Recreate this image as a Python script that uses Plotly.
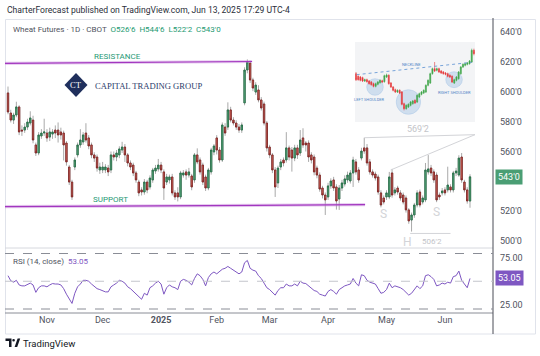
import numpy as np
import pandas as pd
import plotly.graph_objects as go

# ---------------- data ----------------
holidays = ["2024-11-28", "2024-12-25", "2025-01-01", "2025-01-09",
            "2025-01-20", "2025-02-17", "2025-04-18", "2025-05-26"]
dates = [d for d in pd.bdate_range("2024-10-14", "2025-06-13")
         if d.strftime("%Y-%m-%d") not in holidays]

opens = [599.3, 585.8, 581.1, 584.5, 589.9, 574.4, 574.4, 576.4, 579.1, 581.1,
         564.4, 559.0, 570.4, 572.4, 572.4, 569.7, 571.7, 574.4, 574.4, 573.1,
         572.4, 565.7, 549.6, 539.5, 549.6, 557.7, 564.4, 566.4, 572.4, 569.1,
         564.4, 557.7, 556.3, 547.6, 547.6, 547.6, 548.9, 547.6, 557.7, 556.3,
         557.7, 561.0, 563.0, 557.7, 552.3, 550.9, 545.6, 539.5, 534.2, 532.8,
         539.5, 536.2, 540.9, 546.9, 548.3, 550.9, 546.3, 539.5, 540.9, 542.9,
         532.2, 532.2, 529.5, 544.2, 546.3, 544.2, 543.6, 540.9, 557.7, 554.3,
         550.9, 542.9, 535.5, 546.3, 559.7, 569.1, 561.0, 554.3, 576.4, 576.4,
         587.9, 581.1, 579.1, 576.4, 574.4, 592.6, 614.7, 619.4, 608.0, 599.9,
         601.3, 594.6, 591.9, 579.1, 563.0, 557.7, 547.6, 538.9, 549.6, 554.3,
         554.3, 562.4, 561.0, 555.6, 562.4, 559.0, 569.1, 565.7, 565.7, 557.7,
         556.3, 548.9, 544.2, 535.5, 530.8, 529.5, 536.9, 540.9, 536.2, 528.1,
         535.5, 538.2, 540.9, 540.2, 545.6, 553.0, 547.6, 555.6, 562.4, 562.4,
         553.0, 546.3, 544.9, 542.9, 532.2, 528.8, 529.5, 529.5, 545.6, 532.2,
         535.5, 532.2, 530.8, 528.8, 520.8, 514.0, 517.4, 524.1, 532.8, 526.1,
         527.5, 546.3, 548.9, 546.3, 544.2, 530.8, 532.2, 534.2, 534.2, 536.2,
         534.2, 545.6, 544.2, 556.3, 539.5, 534.2, 526.75]
highs = [603.6, 588.0, 586.0, 593.4, 591.0, 577.5, 579.0, 582.0, 587.0, 584.0,
         566.0, 573.0, 575.0, 582.0, 575.0, 576.0, 575.0, 577.5, 579.5, 576.0,
         574.0, 567.0, 551.0, 541.0, 556.0, 566.0, 575.0, 573.0, 579.0, 571.0,
         566.0, 559.5, 558.0, 552.5, 553.0, 551.5, 551.0, 560.0, 560.0, 561.0,
         563.5, 566.5, 565.0, 559.0, 554.0, 552.5, 547.0, 541.0, 536.0, 541.5,
         541.0, 544.0, 549.0, 551.0, 555.0, 553.0, 548.0, 545.0, 544.5, 545.0,
         534.0, 536.0, 547.0, 547.5, 548.0, 549.0, 545.0, 559.0, 562.1, 556.0,
         552.5, 544.5, 549.0, 562.5, 565.0, 571.0, 563.0, 579.5, 579.0, 593.0,
         590.0, 583.0, 581.0, 578.5, 579.5, 616.5, 621.8, 621.0, 609.5, 606.5,
         604.5, 596.5, 593.5, 580.5, 564.5, 559.0, 549.5, 550.5, 555.0, 556.0,
         573.0, 564.0, 563.0, 564.5, 564.5, 574.4, 575.6, 567.0, 567.5, 559.5,
         558.0, 550.5, 546.0, 537.0, 532.5, 539.0, 542.0, 543.0, 538.0, 537.5,
         541.0, 544.0, 546.5, 547.5, 556.5, 555.0, 549.5, 562.5, 569.25, 565.0,
         555.0, 548.0, 546.5, 544.5, 534.0, 530.5, 534.0, 546.3, 548.3, 536.0,
         537.0, 534.0, 532.5, 530.5, 522.0, 519.0, 525.5, 534.0, 534.5, 530.5,
         552.3, 557.6, 551.0, 548.0, 546.0, 532.5, 535.5, 536.0, 549.8, 538.0,
         547.0, 549.0, 557.5, 559.0, 541.0, 536.0, 544.75]
lows = [585.0, 579.5, 578.5, 583.0, 571.0, 570.5, 572.5, 574.5, 577.5, 565.5,
        557.0, 557.5, 568.5, 570.5, 566.5, 567.0, 568.5, 569.0, 566.0, 568.0,
        554.0, 550.5, 537.5, 527.5, 547.5, 556.0, 562.5, 564.5, 566.0, 561.5,
        555.5, 553.0, 546.5, 545.0, 545.5, 545.5, 543.5, 545.5, 554.0, 553.5,
        555.5, 559.0, 553.0, 550.0, 547.5, 543.5, 539.0, 530.0, 530.5, 531.0,
        532.0, 534.5, 539.0, 545.0, 546.5, 545.5, 527.5, 537.5, 538.5, 530.5,
        527.5, 526.5, 528.0, 542.5, 541.0, 542.5, 534.0, 539.0, 551.5, 544.5,
        537.5, 533.5, 534.0, 544.5, 557.5, 558.0, 552.5, 553.0, 570.5, 574.5,
        579.5, 577.5, 574.5, 572.5, 572.5, 591.0, 612.5, 606.0, 600.5, 598.0,
        593.0, 587.5, 577.5, 560.0, 555.5, 545.5, 529.5, 535.5, 547.5, 550.0,
        552.5, 554.0, 546.5, 553.5, 555.0, 557.0, 562.5, 560.0, 553.0, 552.0,
        544.0, 542.0, 533.0, 528.5, 517.4, 527.5, 535.0, 533.5, 521.0, 520.8,
        533.5, 536.5, 539.0, 538.5, 536.2, 544.5, 539.0, 554.0, 558.5, 550.5,
        544.5, 542.5, 540.5, 531.0, 522.5, 524.5, 527.5, 528.0, 529.0, 530.5,
        531.0, 527.0, 524.5, 519.0, 511.5, 506.25, 515.5, 522.5, 522.5, 524.5,
        526.0, 544.5, 543.5, 539.0, 526.0, 527.5, 530.5, 530.5, 532.5, 532.5,
        532.5, 543.5, 543.0, 539.0, 532.5, 525.0, 522.25]
closes = [586.5, 581.1, 584.5, 589.9, 573.1, 573.8, 576.4, 579.8, 582.5, 567.7,
          559.0, 571.1, 572.4, 573.1, 569.1, 573.1, 573.1, 572.4, 571.1, 571.1,
          564.4, 553.0, 539.5, 529.5, 554.3, 564.4, 567.7, 571.1, 567.7, 563.7,
          557.7, 555.6, 548.9, 549.6, 549.6, 549.6, 546.3, 557.7, 556.3, 559.0,
          561.7, 563.0, 557.7, 552.3, 549.6, 545.6, 540.9, 532.2, 532.8, 539.5,
          534.2, 542.2, 547.6, 548.9, 550.9, 547.6, 535.5, 542.9, 542.9, 532.2,
          529.5, 529.5, 545.6, 545.6, 544.2, 546.3, 536.2, 557.7, 553.0, 546.3,
          539.5, 535.5, 547.6, 561.0, 563.7, 561.0, 554.3, 577.8, 572.4, 587.9,
          581.1, 579.1, 576.4, 574.4, 577.8, 614.7, 620.1, 608.0, 602.6, 604.6,
          594.6, 589.2, 579.1, 562.4, 557.7, 547.6, 536.2, 548.9, 553.0, 552.3,
          562.4, 556.3, 555.6, 562.4, 557.7, 567.7, 564.4, 564.4, 556.3, 554.3,
          546.3, 544.2, 534.8, 530.8, 527.5, 536.9, 540.2, 535.5, 526.8, 535.5,
          538.9, 541.6, 544.2, 545.6, 554.3, 546.3, 540.9, 560.3, 560.3, 552.3,
          546.3, 544.2, 542.2, 532.8, 524.1, 526.1, 532.2, 542.9, 530.8, 534.2,
          532.8, 528.8, 526.1, 520.8, 513.4, 517.4, 524.1, 532.2, 524.1, 528.8,
          547.6, 548.3, 545.6, 540.9, 527.5, 529.5, 533.5, 532.2, 537.5, 534.2,
          545.6, 546.9, 555.6, 540.9, 534.2, 526.8, 543.0]
rsi = [56, 50.5, 49, 51, 46, 45, 45, 46.5, 48, 46,
       38, 43, 45, 45, 44, 46, 47.5, 47, 47, 46,
       42, 36, 31, 26, 37, 44, 47, 51, 51, 50,
       47, 44, 42, 41, 40, 38.5, 38.5, 44, 46, 48,
       51, 50, 48, 44, 42, 39, 36, 33, 30.5, 37,
       35, 43, 45, 48, 50, 47, 36, 43, 46, 44,
       43, 41, 50, 52, 51, 49, 46, 53, 58, 56,
       52, 45, 54, 58, 60, 58, 61, 63, 64, 66,
       64, 62, 60, 58, 60, 70, 72.5, 64, 62, 61,
       56, 53, 48, 43, 41, 38, 35, 40, 43, 43,
       47, 45, 45, 47, 45, 50, 48, 47.5, 45, 43,
       40, 39, 36, 35, 34, 39, 41, 39, 36, 41,
       43, 45, 46, 47, 53, 48, 45, 57, 56, 51,
       49, 48, 47, 42, 37, 38, 41, 48, 43, 45,
       44, 43, 41, 38, 35, 37, 41, 45, 42, 45,
       56, 57, 55, 52, 45, 46, 48, 47, 49, 48,
       55, 56, 61, 51, 47, 43, 53.05]

price_ticks = [500, 520, 560, 580, 600, 620, 640]
rsi_ticks = [25, 75]
rsi_bands = [20, 50, 80]

# head & shoulders illustration (inset picture) mini candles, arbitrary units
ins_open = [150, 142, 140, 138, 128, 132, 128, 125, 120, 112, 118, 123, 129, 126, 140,
            145, 122, 110, 102, 95, 100, 95, 60, 45, 50, 55, 60, 70, 65, 80,
            88, 92, 95, 115, 122, 150, 165, 160, 165, 158, 155, 152, 150, 145, 142,
            122, 130, 135, 150, 170, 175, 178, 180, 185, 220]
ins_close = [132, 132, 130, 128, 132, 126, 120, 117, 112, 120, 125, 130, 125, 144, 146,
             120, 110, 100, 95, 100, 92, 58, 45, 55, 58, 65, 68, 62, 85, 90,
             95, 100, 115, 130, 150, 165, 158, 165, 155, 152, 150, 148, 142, 140, 125,
             132, 140, 155, 170, 178, 180, 182, 188, 220, 210]
ins_high = [155, 145, 143, 141, 135, 135, 131, 128, 123, 123, 128, 133, 132, 147, 150,
            148, 125, 113, 105, 103, 103, 98, 63, 58, 61, 68, 71, 73, 88, 93,
            98, 103, 118, 133, 153, 168, 185, 168, 168, 161, 158, 155, 153, 148, 145,
            135, 143, 158, 173, 181, 183, 185, 191, 225, 225]
ins_low = [128, 129, 127, 125, 125, 123, 117, 114, 109, 109, 115, 120, 122, 123, 137,
           117, 107, 97, 92, 92, 89, 55, 40, 42, 47, 52, 57, 59, 62, 77,
           85, 89, 92, 112, 119, 147, 155, 157, 152, 149, 147, 145, 139, 137, 122,
           119, 127, 132, 147, 167, 172, 175, 177, 182, 205]

# user drawings (bar index, price)
resistance_pts = [(-1.1, 619.2), (87.7, 620.4)]
support_pts = [(-1.1, 523.0), (128.3, 524.3)]
wedge_top_pts = [(128.0, 569.25), (167.8, 571.3)]
wedge_low_pts = [(137.5, 547.6), (167.8, 571.3)]
head_low_pts = [(144.5, 505.0), (159.0, 505.0)]

# ---------------- helpers ----------------
W, H = 540, 356
L_M, R_M, T_M, B_M = 5, 47, 20, 43
PW, PH = W - L_M - R_M, H - T_M - B_M
SPLIT = 248  # pixel y of pane separator


def px(x):
    return (x - L_M) / PW


def py(y):
    return (H - B_M - y) / PH


def fmt8(p):
    w = int(np.floor(p + 1e-9))
    e = int(round((p - w) * 8))
    if e == 8:
        w, e = w + 1, 0
    return f"{w}'{e}"


n = len(dates)
assert n == len(opens) == len(highs) == len(lows) == len(closes) == len(rsi)
idx = list(range(n))
body_hi = [max(o, c) for o, c in zip(opens, closes)]
body_lo = [min(o, c) for o, c in zip(opens, closes)]

# month ticks
tickvals, ticktext = [], []
prev = None
for i, d in enumerate(dates):
    key = (d.year, d.month)
    if prev is not None and key != prev and d >= pd.Timestamp("2024-11-01"):
        tickvals.append(i)
        ticktext.append("<b>2025</b>" if d.month == 1 else d.strftime("%b"))
    prev = key

# axis geometry: bar 0 at pixel 8, bar n-1 at pixel 470
spacing = (470 - 8) / (n - 1)
x_range = [(L_M - 8) / spacing, (L_M + PW - 8) / spacing]
# price scale: 640 at y=32.3, 1.49 px per cent
pps = 1.49
y_top = 640 + (32.3 - T_M) / pps
y_bot = 640 - (SPLIT - 32.3) / pps
# rsi scale: 50 at y=281.25, 0.925 px per point
r_top = 50 + (281.25 - SPLIT) / 0.925
r_bot = 50 - (H - B_M - 281.25) / 0.925
split_frac = py(SPLIT)

WICK = "#a9a9a9"
FONT = "Roboto"
TXT = "#2a2e39"

fig = go.Figure()
fig.add_trace(go.Candlestick(
    x=idx, open=opens, high=highs, low=lows, close=closes,
    increasing=dict(line=dict(color=WICK, width=1), fillcolor=WICK),
    decreasing=dict(line=dict(color=WICK, width=1), fillcolor=WICK),
    xaxis="x", yaxis="y", hoverinfo="skip", showlegend=False))
fig.add_trace(go.Candlestick(
    x=idx, open=opens, high=body_hi, low=body_lo, close=closes,
    increasing=dict(line=dict(color="#1f6b43", width=0.8), fillcolor="#62b085"),
    decreasing=dict(line=dict(color="#7a1c1c", width=0.8), fillcolor="#e07466"),
    xaxis="x", yaxis="y", hoverinfo="skip", showlegend=False))
fig.add_trace(go.Scatter(
    x=idx, y=rsi, mode="lines", line=dict(color="#7e57c2", width=1),
    xaxis="x2", yaxis="y2", hoverinfo="skip", showlegend=False))
ins_idx = list(range(len(ins_open)))
fig.add_trace(go.Candlestick(
    x=ins_idx, open=ins_open, high=ins_high, low=ins_low, close=ins_close,
    increasing=dict(line=dict(color="#3fa64a", width=0.6), fillcolor="#3fa64a"),
    decreasing=dict(line=dict(color="#e5393b", width=0.6), fillcolor="#e5393b"),
    xaxis="x3", yaxis="y3", hoverinfo="skip", showlegend=False))

axis_common = dict(showgrid=False, zeroline=False, showline=False)
ins_x0, ins_x1, ins_y0, ins_y1 = px(355), px(475), py(122), py(42)
fig.update_layout(
    width=W, height=H, margin=dict(l=L_M, r=R_M, t=T_M, b=B_M),
    paper_bgcolor="white", plot_bgcolor="rgba(0,0,0,0)", hovermode=False,
    showlegend=False,
    font=dict(family=FONT, color=TXT, size=9),
    xaxis=dict(domain=[0, 1], range=x_range, anchor="y", showticklabels=False,
               ticks="", rangeslider=dict(visible=False), **axis_common),
    xaxis2=dict(domain=[0, 1], range=x_range, anchor="y2", tickvals=tickvals,
                ticktext=ticktext, ticks="", tickfont=dict(size=9, color="#50535e"),
                **axis_common),
    yaxis=dict(domain=[split_frac, 1], range=[y_bot, y_top], side="right",
               anchor="x", tickvals=price_ticks,
               ticktext=[fmt8(v) for v in price_ticks], ticks="",
               tickfont=dict(size=9, color="#50535e"), ticklabelstandoff=6,
               **axis_common),
    yaxis2=dict(domain=[0, split_frac], range=[r_bot, r_top], side="right",
                anchor="x2", tickvals=rsi_ticks,
                ticktext=[f"{v:.2f}" for v in rsi_ticks], ticks="",
                tickfont=dict(size=9, color="#50535e"), ticklabelstandoff=6,
                **axis_common),
    xaxis3=dict(domain=[ins_x0, ins_x1], range=[-0.46, len(ins_open) - 0.5],
                anchor="y3", visible=False, rangeslider=dict(visible=False)),
    yaxis3=dict(domain=[ins_y0, ins_y1], range=[5, 245], anchor="x3",
                visible=False),
)

shapes = []
# panel frame
shapes.append(dict(type="rect", xref="paper", yref="paper", x0=px(5.5), x1=px(535.5),
                   y0=py(334), y1=py(19.5), line=dict(color="#e0e3eb", width=1),
                   layer="below"))
# inset picture background
shapes.append(dict(type="rect", xref="paper", yref="paper", x0=ins_x0, x1=ins_x1,
                   y0=ins_y0, y1=ins_y1, fillcolor="#f3f4f6", line=dict(width=0),
                   layer="below"))
# inset circles (index, value, rx, ry)
for cx, cy, rx, ry in [(8.7, 110, 3.8, 25), (24.0, 65, 5.6, 37), (44.9, 132, 3.8, 24)]:
    shapes.append(dict(type="circle", xref="x3", yref="y3", x0=cx - rx, x1=cx + rx,
                       y0=cy - ry, y1=cy + ry, fillcolor="rgba(165,195,228,0.45)",
                       line=dict(color="rgba(150,185,225,0.7)", width=0.5),
                       layer="below"))
shapes.append(dict(type="line", xref="x3", yref="y3", x0=0.3, y0=147, x1=53, y1=184,
                   line=dict(color="#6a9bd6", width=0.9, dash="dot")))
# pane separator / axes lines
shapes.append(dict(type="line", xref="paper", yref="paper", x0=0, x1=1,
                   y0=split_frac, y1=split_frac, line=dict(color="#d6d8de", width=1)))
shapes.append(dict(type="line", xref="paper", yref="paper", x0=0, x1=1, y0=0, y1=0,
                   line=dict(color="#8a8d96", width=1)))
shapes.append(dict(type="line", xref="paper", yref="paper", x0=1, x1=1,
                   y0=py(334), y1=py(18), line=dict(color="#4a4d56", width=1)))
# rsi bands
for v in rsi_bands:
    shapes.append(dict(type="line", xref="x2 domain", yref="y2", x0=0, x1=1, y0=v, y1=v,
                       line=dict(color="#8a8d96" if v != 50 else "#c3c5cc",
                                 width=1, dash="dash")))
# resistance / support
for pts in (resistance_pts, support_pts):
    (x0, y0), (x1, y1) = pts
    shapes.append(dict(type="line", xref="x", yref="y", x0=x0, y0=y0, x1=x1, y1=y1,
                       line=dict(color="rgba(200,140,220,0.45)", width=3.2)))
    shapes.append(dict(type="line", xref="x", yref="y", x0=x0, y0=y0, x1=x1, y1=y1,
                       line=dict(color="#a236bf", width=1.2)))
for pts in (wedge_top_pts, wedge_low_pts, head_low_pts):
    (x0, y0), (x1, y1) = pts
    shapes.append(dict(type="line", xref="x", yref="y", x0=x0, y0=y0, x1=x1, y1=y1,
                       line=dict(color="#d3d4d8", width=1)))
# logo diamond
shapes.append(dict(type="path", xref="paper", yref="paper",
                   path=f"M {px(76)} {py(73)} L {px(87.5)} {py(85)} L {px(76)} {py(97)} "
                        f"L {px(64.5)} {py(85)} Z",
                   fillcolor="#1f2f5c", line=dict(width=0)))
# TradingView mark
tv = "#131722"
shapes.append(dict(type="path", xref="paper", yref="paper",
                   path=f"M {px(5.5)} {py(338.5)} L {px(11.5)} {py(338.5)} L {px(11.5)} {py(347)} "
                        f"L {px(9)} {py(347)} L {px(9)} {py(341)} L {px(5.5)} {py(341)} Z",
                   fillcolor=tv, line=dict(width=0)))
shapes.append(dict(type="circle", xref="paper", yref="paper", x0=px(12.3), x1=px(14.9),
                   y0=py(341.6), y1=py(339), fillcolor=tv, line=dict(width=0)))
shapes.append(dict(type="path", xref="paper", yref="paper",
                   path=f"M {px(14.6)} {py(347)} L {px(17.6)} {py(338.5)} L {px(20.2)} {py(338.5)} "
                        f"L {px(17.2)} {py(347)} Z",
                   fillcolor=tv, line=dict(width=0)))
fig.update_layout(shapes=shapes)

ann = []


def text(x, y, s, size=9, color=TXT, xanchor="left", family=FONT, **kw):
    ann.append(dict(xref="paper", yref="paper", x=px(x), y=py(y), text=s,
                    showarrow=False, xanchor=xanchor, yanchor="middle",
                    font=dict(size=size, color=color, family=family), **kw))


text(5, 10, "CharterForecast published on TradingView.com, Jun 13, 2025 17:29 UTC-4",
     size=8.6, color="#2a2e39")
last = n - 1
ohlc = (f"O{fmt8(opens[last])}  H{fmt8(highs[last])}  "
        f"L{fmt8(lows[last])}  C{fmt8(closes[last])}")
text(11, 29, "Wheat Futures · 1D · CBOT  "
     f"<span style='color:#1e9a72'>{ohlc}</span>", size=8, color="#50535e")
text(11, 261, f"RSI (14, close)  <span style='color:#7e57c2'>{rsi[-1]:.2f}</span>",
     size=8, color="#50535e")
text(117, 56, "RESISTANCE", size=8, color="#1f9a76", xanchor="center")
text(110, 199, "SUPPORT", size=8, color="#1f9a76", xanchor="center")
text(93, 85.5, "CAPITAL TRADING GROUP", size=8.6, color="#2b3c6b",
     family="Liberation Serif")
text(76, 85, "CT", size=8.5, color="white", xanchor="center", family="Liberation Serif")
text(383, 214, "S", size=12, color="#d3d4d8", xanchor="center")
text(436, 212, "S", size=12, color="#d3d4d8", xanchor="center")
text(407, 241.5, "H", size=12, color="#d3d4d8", xanchor="center")
text(432, 241, fmt8(lows[145]), size=8, color="#c3c4c9", xanchor="center")
text(418, 129, fmt8(highs[128]), size=9, color="#c3c4c9", xanchor="center")
text(21, 343, "TradingView", size=9.5, color=tv)

# inset labels
for xi, yi, s in [(25.2, 178, "NECKLINE"), (6.4, 72, "LEFT SHOULDER"),
                  (44.9, 93, "RIGHT SHOULDER")]:
    ann.append(dict(xref="x3", yref="y3", x=xi, y=yi, text=s, showarrow=False,
                    font=dict(size=4, color="#4f84c6", family=FONT)))

# last value labels on the scales
ann.append(dict(xref="paper", yref="y", x=1.0, y=closes[last], text=fmt8(closes[last]),
                showarrow=False, xanchor="left", yanchor="middle", bgcolor="#4a9e74",
                borderpad=2, font=dict(size=9, color="white", family=FONT), xshift=2))
ann.append(dict(xref="paper", yref="y2", x=1.0, y=rsi[-1], text=f"{rsi[-1]:.2f}",
                showarrow=False, xanchor="left", yanchor="middle", bgcolor="#7e57c2",
                borderpad=2, font=dict(size=9, color="white", family=FONT), xshift=2))
fig.update_layout(annotations=ann)

fig.write_html("out.html",
               config={"displayModeBar": False, "staticPlot": True},
               post_script="document.body.style.margin='0px';"
                           "document.body.style.overflow='hidden';")
